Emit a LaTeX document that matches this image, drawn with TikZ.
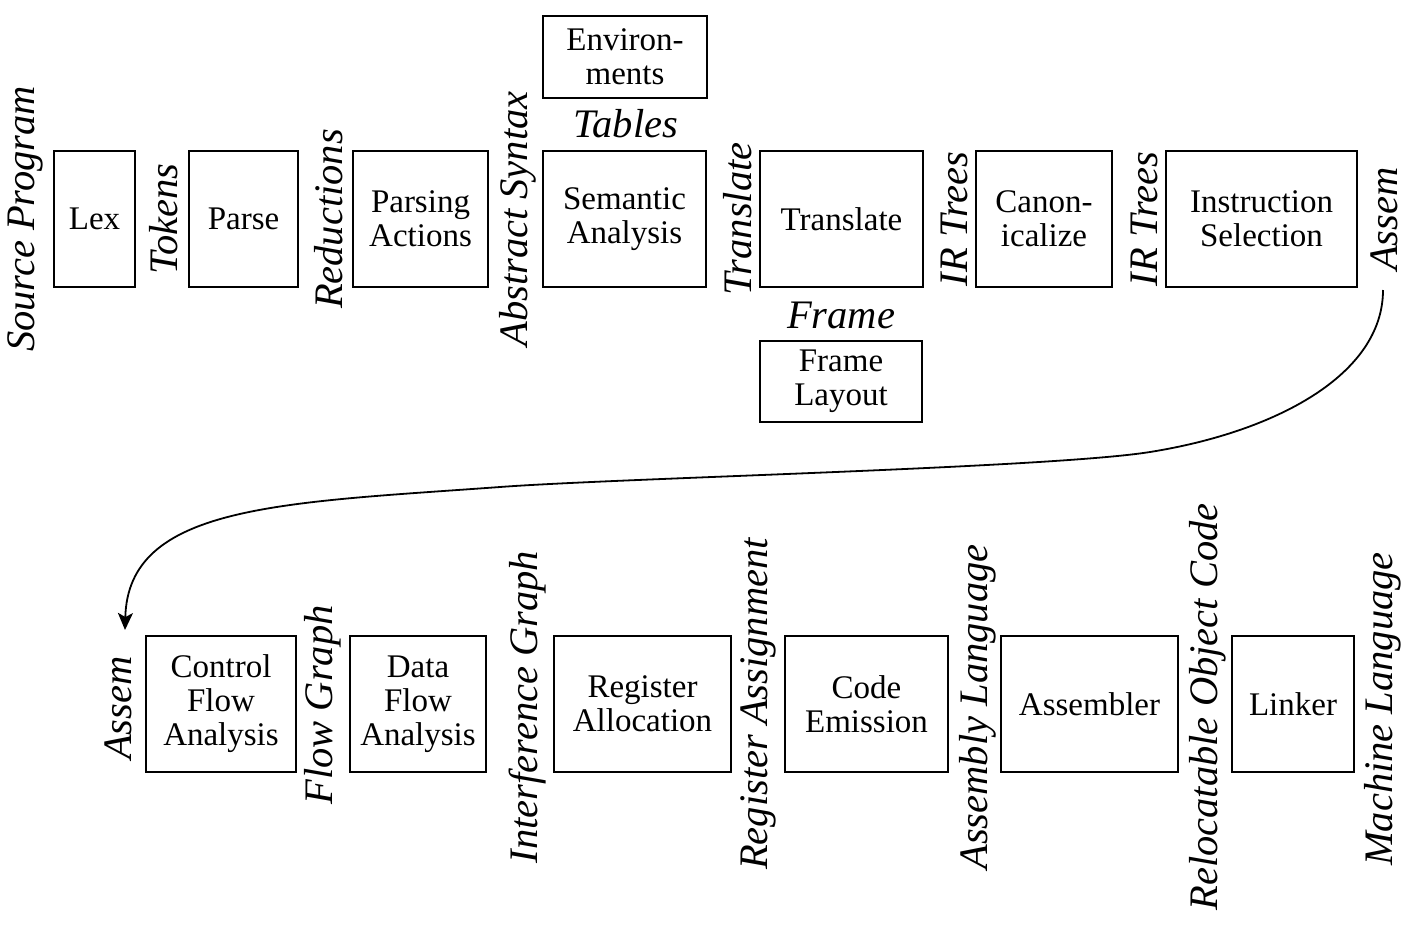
\documentclass[tikz,border=0pt]{standalone}
\usepackage{fontspec}
\setmainfont{Liberation Serif}
\usetikzlibrary{arrows.meta}
\tikzset{
  box/.style={draw, line width=2pt, inner sep=0pt, align=center,
    font=\fontsize{33}{34}\selectfont},
  lbl/.style={font=\fontsize{40.5}{42}\selectfont\itshape, inner sep=0pt, rotate=90, anchor=base},
  flat/.style={font=\fontsize{40.5}{42}\selectfont\itshape, inner sep=0pt, anchor=base},
  flow/.style={line width=1.8pt, -{Stealth[length=17pt,width=15pt,inset=4pt]}},
}
\begin{document}
\begin{tikzpicture}[x=1pt,y=-1pt]
\useasboundingbox (0,0) rectangle (1418,924);
% top row boxes
\node[box, minimum width=81pt, minimum height=136pt] (lex) at (94.5,219) {Lex};
\node[box, minimum width=109pt, minimum height=136pt] (parse) at (243.5,219) {Parse};
\node[box, minimum width=135pt, minimum height=136pt] (pact) at (420.5,219) {Parsing\\Actions};
\node[box, minimum width=163pt, minimum height=136pt] (sem) at (624.5,219) {Semantic\\Analysis};
\node[box, minimum width=163pt, minimum height=136pt] (trans) at (841.5,219) {Translate};
\node[box, minimum width=136pt, minimum height=136pt] (canon) at (1044,219) {Canon-\\icalize};
\node[box, minimum width=191pt, minimum height=136pt] (isel) at (1261.5,219) {Instruction\\Selection};
\node[box, minimum width=164pt, minimum height=82pt] (env) at (625,57) {Environ-\\ments};
\node[box, minimum width=162pt, minimum height=81pt] (frl) at (841,381.5) {Frame\\Layout};
% top labels
\node[lbl] (srcprog) at (34,219) {Source Program};
\node[lbl] (tokens) at (177,219) {Tokens};
\node[lbl] (reduc) at (342,219) {Reductions};
\node[lbl] (abssyn) at (527,219) {Abstract Syntax};
\node[lbl] (transl) at (751,219) {Translate};
\node[lbl] (irt1) at (967,219) {IR Trees};
\node[lbl] (irt2) at (1157,219) {IR Trees};
\node[lbl] (assem1) at (1397,219) {Assem};
\node[flat] (tables) at (626,137) {Tables};
\node[flat] (frame) at (841,328) {Frame};
% bottom row boxes
\node[box, minimum width=150pt, minimum height=136pt] (cfa) at (221,704) {Control\\Flow\\Analysis};
\node[box, minimum width=136pt, minimum height=136pt] (dfa) at (418,704) {Data\\Flow\\Analysis};
\node[box, minimum width=177pt, minimum height=136pt] (ra) at (642.5,704) {Register\\Allocation};
\node[box, minimum width=163pt, minimum height=136pt] (ce) at (866.5,704) {Code\\Emission};
\node[box, minimum width=177pt, minimum height=136pt] (asm) at (1089.5,704) {Assembler};
\node[box, minimum width=122pt, minimum height=136pt] (link) at (1293,704) {Linker};
% bottom labels
\node[lbl] (assem2) at (131,708) {Assem};
\node[lbl] (flowg) at (332,705) {Flow Graph};
\node[lbl] (intg) at (537,707) {Interference Graph};
\node[lbl] (rega) at (767,704) {Register Assignment};
\node[lbl] (asml) at (987,707) {Assembly Language};
\node[lbl] (roc) at (1217,707) {Relocatable Object Code};
\node[lbl] (ml) at (1392,709) {Machine Language};
% curved connector
\coordinate (cs) at (1383,290);
\coordinate (m1) at (1150,452);
\coordinate (m2) at (500,487);
\coordinate (ce2) at (125,630);
\draw[flow] (cs) .. controls (1383,375) and (1275,432) .. (m1)
  .. controls (1050,468) and (620,478) .. (m2)
  .. controls (280,503) and (128,505) .. (ce2);
\end{tikzpicture}
\end{document}
